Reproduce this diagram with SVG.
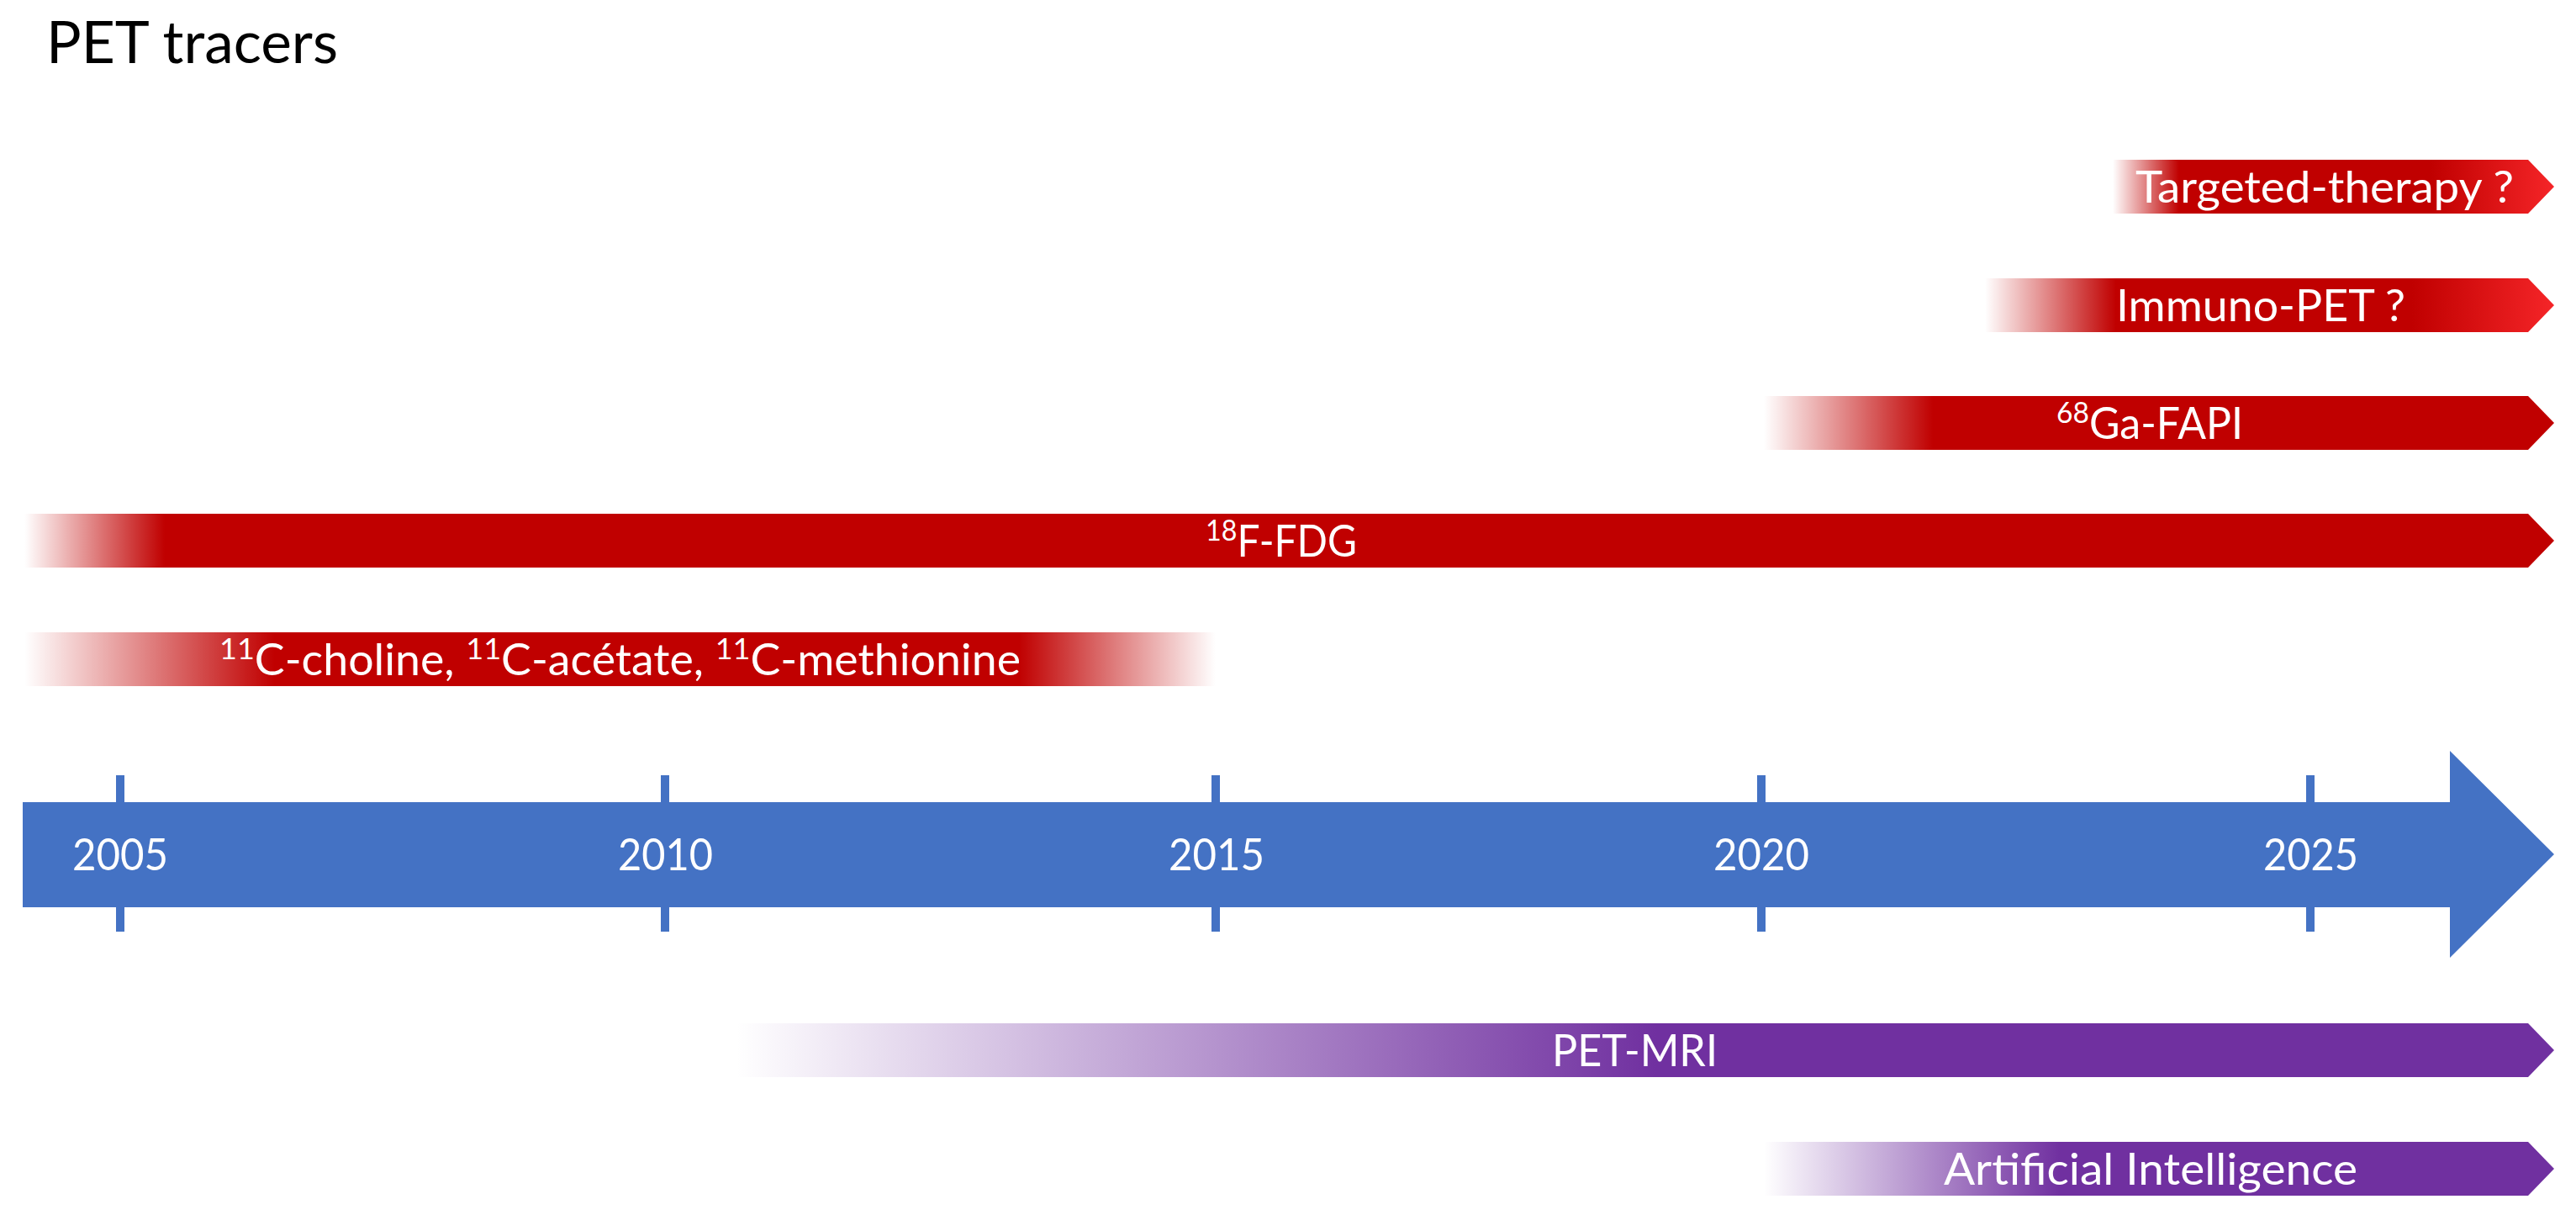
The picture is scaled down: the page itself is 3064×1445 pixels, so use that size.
<svg xmlns="http://www.w3.org/2000/svg" width="3064" height="1445" viewBox="0 0 3064 1445">
<style>
.lbl{font-family:Lato,"Open Sans","Liberation Sans",sans-serif;font-size:52px;fill:#FFFFFF}
.yr{font-family:Lato,"Open Sans","Liberation Sans",sans-serif;font-size:52px;fill:#FFFFFF}
.ttl{font-family:Lato,"Open Sans","Liberation Sans",sans-serif;font-size:70px;fill:#000000}
.sup{font-size:35px}
.tick{fill:#4472C4}
</style>
<defs>
<linearGradient id="gTarget" gradientUnits="userSpaceOnUse" x1="2513" y1="0" x2="3038" y2="0">
<stop offset="0" stop-color="#C00000" stop-opacity="0"/>
<stop offset="0.15" stop-color="#C00000"/>
<stop offset="0.72" stop-color="#C00000"/>
<stop offset="1" stop-color="#F52528"/>
</linearGradient>
<linearGradient id="gImmuno" gradientUnits="userSpaceOnUse" x1="2361" y1="0" x2="3038" y2="0">
<stop offset="0" stop-color="#C00000" stop-opacity="0"/>
<stop offset="0.23" stop-color="#C00000"/>
<stop offset="0.75" stop-color="#C00000"/>
<stop offset="1" stop-color="#F52528"/>
</linearGradient>
<linearGradient id="gFapi" gradientUnits="userSpaceOnUse" x1="2098" y1="0" x2="3038" y2="0">
<stop offset="0" stop-color="#C00000" stop-opacity="0"/>
<stop offset="0.214" stop-color="#C00000"/>
<stop offset="1" stop-color="#C00000"/>
</linearGradient>
<linearGradient id="gFdg" gradientUnits="userSpaceOnUse" x1="29" y1="0" x2="3038" y2="0">
<stop offset="0" stop-color="#C00000" stop-opacity="0"/>
<stop offset="0.0555" stop-color="#C00000"/>
<stop offset="1" stop-color="#C00000"/>
</linearGradient>
<linearGradient id="g11c" gradientUnits="userSpaceOnUse" x1="29" y1="0" x2="1446" y2="0">
<stop offset="0" stop-color="#C00000" stop-opacity="0"/>
<stop offset="0.21" stop-color="#C00000"/>
<stop offset="0.835" stop-color="#C00000"/>
<stop offset="1" stop-color="#C00000" stop-opacity="0"/>
</linearGradient>
<linearGradient id="gMri" gradientUnits="userSpaceOnUse" x1="876" y1="0" x2="3038" y2="0">
<stop offset="0" stop-color="#7030A0" stop-opacity="0"/>
<stop offset="0.506" stop-color="#7030A0"/>
<stop offset="1" stop-color="#7030A0"/>
</linearGradient>
<linearGradient id="gAi" gradientUnits="userSpaceOnUse" x1="2098" y1="0" x2="3038" y2="0">
<stop offset="0" stop-color="#7030A0" stop-opacity="0"/>
<stop offset="0.375" stop-color="#7030A0"/>
<stop offset="1" stop-color="#7030A0"/>
</linearGradient>
</defs>
<rect x="0" y="0" width="3064" height="1445" fill="#FFFFFF"/>

<g id="title">
<text class="ttl" x="55" y="75" textLength="347" lengthAdjust="spacingAndGlyphs">PET tracers</text>
</g>

<g id="timeline">
<rect class="tick" x="138" y="922" width="10" height="186"/>
<rect class="tick" x="786" y="922" width="10" height="186"/>
<rect class="tick" x="1441" y="922" width="10" height="186"/>
<rect class="tick" x="2090" y="922" width="10" height="186"/>
<rect class="tick" x="2743" y="922" width="10" height="186"/>
<polygon points="27,954 2914,954 2914,893 3038,1016 2914,1139 2914,1079 27,1079" fill="#4472C4"/>
<text class="yr" x="86" y="1035" textLength="114" lengthAdjust="spacingAndGlyphs">2005</text>
<text class="yr" x="735" y="1035" textLength="113" lengthAdjust="spacingAndGlyphs">2010</text>
<text class="yr" x="1390" y="1035" textLength="114" lengthAdjust="spacingAndGlyphs">2015</text>
<text class="yr" x="2038" y="1035" textLength="114" lengthAdjust="spacingAndGlyphs">2020</text>
<text class="yr" x="2692" y="1035" textLength="113" lengthAdjust="spacingAndGlyphs">2025</text>
</g>

<g id="targeted-therapy">
<polygon points="2513,190 3007,190 3038,222 3007,254 2513,254" fill="url(#gTarget)"/>
<text class="lbl" x="2540" y="241" textLength="450" lengthAdjust="spacingAndGlyphs">Targeted-therapy ?</text>
</g>

<g id="immuno-pet">
<polygon points="2361,331 3007,331 3038,363 3007,395 2361,395" fill="url(#gImmuno)"/>
<text class="lbl" x="2517" y="382" textLength="344" lengthAdjust="spacingAndGlyphs">Immuno-PET ?</text>
</g>

<g id="ga-fapi">
<polygon points="2098,471 3007,471 3038,503 3007,535 2098,535" fill="url(#gFapi)"/>
<text class="lbl" x="2446" y="522" textLength="222" lengthAdjust="spacingAndGlyphs"><tspan class="sup" dy="-19">68</tspan><tspan dy="19">Ga-FAPI</tspan></text>
</g>

<g id="f-fdg">
<polygon points="29,611 3007,611 3038,643 3007,675 29,675" fill="url(#gFdg)"/>
<text class="lbl" x="1434" y="662" textLength="180" lengthAdjust="spacingAndGlyphs"><tspan class="sup" dy="-19">18</tspan><tspan dy="19">F-FDG</tspan></text>
</g>

<g id="c-tracers">
<rect x="29" y="752" width="1417" height="64" fill="url(#g11c)"/>
<text class="lbl" x="261" y="803" textLength="953" lengthAdjust="spacingAndGlyphs"><tspan class="sup" dy="-19">11</tspan><tspan dy="19">C-choline, </tspan><tspan class="sup" dy="-19">11</tspan><tspan dy="19">C-acétate, </tspan><tspan class="sup" dy="-19">11</tspan><tspan dy="19">C-methionine</tspan></text>
</g>

<g id="pet-mri">
<polygon points="876,1217 3007,1217 3038,1249 3007,1281 876,1281" fill="url(#gMri)"/>
<text class="lbl" x="1846" y="1268" textLength="197" lengthAdjust="spacingAndGlyphs">PET-MRI</text>
</g>

<g id="artificial-intelligence">
<polygon points="2098,1358 3007,1358 3038,1390 3007,1422 2098,1422" fill="url(#gAi)"/>
<text class="lbl" x="2312" y="1409" textLength="492" lengthAdjust="spacingAndGlyphs">Artificial Intelligence</text>
</g>

<g id="connectors"></g>
</svg>
